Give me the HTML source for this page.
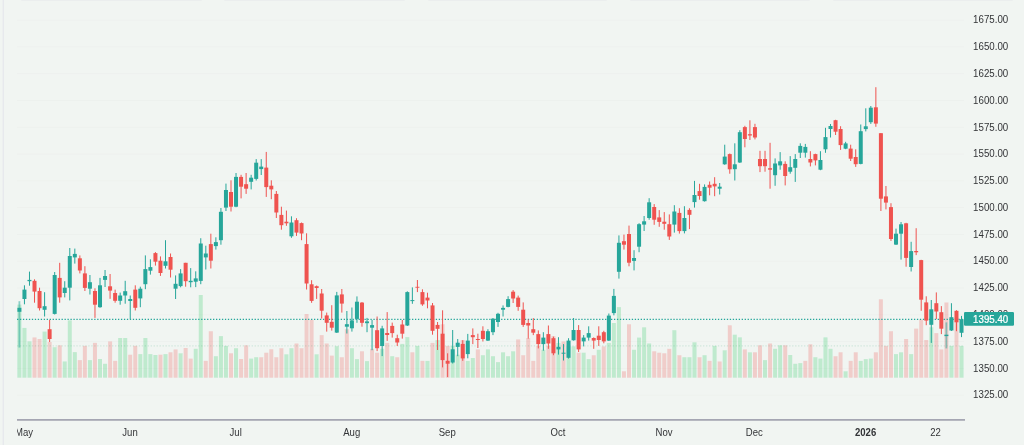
<!DOCTYPE html>
<html><head><meta charset="utf-8"><title>Chart</title>
<style>
html,body{margin:0;padding:0;background:#f1f5f2;}
body{width:1024px;height:445px;overflow:hidden;position:relative;font-family:"Liberation Sans",sans-serif;}
svg{position:absolute;left:0;top:0;display:block}
text{font-family:"Liberation Sans",sans-serif;fill:#333437}
</style></head><body>
<svg width="1024" height="445" viewBox="0 0 1024 445">
<defs><filter id="vb" x="-5%" y="-5%" width="110%" height="110%"><feGaussianBlur stdDeviation="0.22"/></filter><filter id="b" x="-5%" y="-5%" width="110%" height="110%"><feGaussianBlur stdDeviation="0.35"/></filter>
<filter id="tb" x="-5%" y="-20%" width="110%" height="140%"><feGaussianBlur stdDeviation="0.3"/></filter>
<filter id="sh" x="-5%" y="-300%" width="110%" height="700%"><feGaussianBlur stdDeviation="0.6"/></filter></defs>
<rect x="0" y="0" width="1024" height="445" fill="#f1f5f2"/>

<rect x="20" y="-3" width="183" height="3.3" rx="2" fill="#d6d7e2" filter="url(#sh)"/>
<rect x="223" y="-3" width="183" height="3.3" rx="2" fill="#d6d7e2" filter="url(#sh)"/>
<rect x="427" y="-3" width="181" height="3.3" rx="2" fill="#d6d7e2" filter="url(#sh)"/>
<rect x="629" y="-3" width="182" height="3.3" rx="2" fill="#d6d7e2" filter="url(#sh)"/>
<rect x="832" y="-3" width="182" height="3.3" rx="2" fill="#d6d7e2" filter="url(#sh)"/>
<rect x="2.7" y="0" width="1" height="445" fill="#e3e4ec"/>
<rect x="17" y="394.76" width="947" height="0.8" fill="#edf0ed"/>
<rect x="17" y="367.97" width="947" height="0.8" fill="#edf0ed"/>
<rect x="17" y="341.18" width="947" height="0.8" fill="#edf0ed"/>
<rect x="17" y="314.39" width="947" height="0.8" fill="#edf0ed"/>
<rect x="17" y="287.60" width="947" height="0.8" fill="#edf0ed"/>
<rect x="17" y="260.81" width="947" height="0.8" fill="#edf0ed"/>
<rect x="17" y="234.02" width="947" height="0.8" fill="#edf0ed"/>
<rect x="17" y="207.23" width="947" height="0.8" fill="#edf0ed"/>
<rect x="17" y="180.44" width="947" height="0.8" fill="#edf0ed"/>
<rect x="17" y="153.65" width="947" height="0.8" fill="#edf0ed"/>
<rect x="17" y="126.86" width="947" height="0.8" fill="#edf0ed"/>
<rect x="17" y="100.07" width="947" height="0.8" fill="#edf0ed"/>
<rect x="17" y="73.28" width="947" height="0.8" fill="#edf0ed"/>
<rect x="17" y="46.49" width="947" height="0.8" fill="#edf0ed"/>
<rect x="17" y="19.70" width="947" height="0.8" fill="#edf0ed"/>
<g filter="url(#vb)">
<rect x="17.40" y="304.6" width="4.00" height="73.1" fill="rgba(34,197,94,0.245)"/>
<rect x="22.44" y="327.9" width="4.00" height="49.8" fill="rgba(34,197,94,0.245)"/>
<rect x="27.48" y="341.4" width="4.00" height="36.3" fill="rgba(34,197,94,0.245)"/>
<rect x="32.51" y="337.4" width="4.00" height="40.3" fill="rgba(239,68,68,0.225)"/>
<rect x="37.55" y="339.0" width="4.00" height="38.7" fill="rgba(239,68,68,0.225)"/>
<rect x="42.59" y="331.6" width="4.00" height="46.1" fill="rgba(34,197,94,0.245)"/>
<rect x="47.63" y="342.0" width="4.00" height="35.7" fill="rgba(239,68,68,0.225)"/>
<rect x="52.67" y="347.2" width="4.00" height="30.5" fill="rgba(34,197,94,0.245)"/>
<rect x="57.70" y="345.3" width="4.00" height="32.4" fill="rgba(239,68,68,0.225)"/>
<rect x="62.74" y="361.5" width="4.00" height="16.2" fill="rgba(34,197,94,0.245)"/>
<rect x="67.78" y="320.4" width="4.00" height="57.3" fill="rgba(34,197,94,0.245)"/>
<rect x="72.82" y="352.1" width="4.00" height="25.6" fill="rgba(34,197,94,0.245)"/>
<rect x="77.86" y="360.1" width="4.00" height="17.6" fill="rgba(239,68,68,0.225)"/>
<rect x="82.89" y="345.9" width="4.00" height="31.8" fill="rgba(239,68,68,0.225)"/>
<rect x="87.93" y="360.1" width="4.00" height="17.6" fill="rgba(34,197,94,0.245)"/>
<rect x="92.97" y="342.9" width="4.00" height="34.8" fill="rgba(239,68,68,0.225)"/>
<rect x="98.01" y="359.0" width="4.00" height="18.7" fill="rgba(34,197,94,0.245)"/>
<rect x="103.05" y="363.8" width="4.00" height="13.9" fill="rgba(34,197,94,0.245)"/>
<rect x="108.08" y="341.4" width="4.00" height="36.3" fill="rgba(239,68,68,0.225)"/>
<rect x="113.12" y="360.9" width="4.00" height="16.8" fill="rgba(239,68,68,0.225)"/>
<rect x="118.16" y="338.0" width="4.00" height="39.7" fill="rgba(34,197,94,0.245)"/>
<rect x="123.20" y="338.0" width="4.00" height="39.7" fill="rgba(34,197,94,0.245)"/>
<rect x="128.24" y="354.7" width="4.00" height="23.0" fill="rgba(239,68,68,0.225)"/>
<rect x="133.27" y="345.9" width="4.00" height="31.8" fill="rgba(239,68,68,0.225)"/>
<rect x="138.31" y="354.1" width="4.00" height="23.6" fill="rgba(34,197,94,0.245)"/>
<rect x="143.35" y="338.0" width="4.00" height="39.7" fill="rgba(34,197,94,0.245)"/>
<rect x="148.39" y="354.1" width="4.00" height="23.6" fill="rgba(34,197,94,0.245)"/>
<rect x="153.43" y="355.0" width="4.00" height="22.7" fill="rgba(34,197,94,0.245)"/>
<rect x="158.46" y="354.7" width="4.00" height="23.0" fill="rgba(239,68,68,0.225)"/>
<rect x="163.50" y="354.1" width="4.00" height="23.6" fill="rgba(34,197,94,0.245)"/>
<rect x="168.54" y="352.3" width="4.00" height="25.4" fill="rgba(239,68,68,0.225)"/>
<rect x="173.58" y="349.4" width="4.00" height="28.3" fill="rgba(239,68,68,0.225)"/>
<rect x="178.62" y="353.3" width="4.00" height="24.4" fill="rgba(34,197,94,0.245)"/>
<rect x="183.65" y="348.0" width="4.00" height="29.7" fill="rgba(239,68,68,0.225)"/>
<rect x="188.69" y="358.6" width="4.00" height="19.1" fill="rgba(239,68,68,0.225)"/>
<rect x="193.73" y="348.8" width="4.00" height="28.9" fill="rgba(34,197,94,0.245)"/>
<rect x="198.77" y="295.0" width="4.00" height="82.7" fill="rgba(34,197,94,0.245)"/>
<rect x="203.81" y="360.9" width="4.00" height="16.8" fill="rgba(239,68,68,0.225)"/>
<rect x="208.84" y="331.2" width="4.00" height="46.5" fill="rgba(239,68,68,0.225)"/>
<rect x="213.88" y="356.2" width="4.00" height="21.5" fill="rgba(34,197,94,0.245)"/>
<rect x="218.92" y="336.1" width="4.00" height="41.6" fill="rgba(34,197,94,0.245)"/>
<rect x="223.96" y="345.9" width="4.00" height="31.8" fill="rgba(34,197,94,0.245)"/>
<rect x="229.00" y="353.3" width="4.00" height="24.4" fill="rgba(239,68,68,0.225)"/>
<rect x="234.03" y="348.2" width="4.00" height="29.5" fill="rgba(34,197,94,0.245)"/>
<rect x="239.07" y="359.0" width="4.00" height="18.7" fill="rgba(239,68,68,0.225)"/>
<rect x="244.11" y="345.3" width="4.00" height="32.4" fill="rgba(239,68,68,0.225)"/>
<rect x="249.15" y="358.6" width="4.00" height="19.1" fill="rgba(34,197,94,0.245)"/>
<rect x="254.19" y="357.2" width="4.00" height="20.5" fill="rgba(34,197,94,0.245)"/>
<rect x="259.22" y="357.2" width="4.00" height="20.5" fill="rgba(239,68,68,0.225)"/>
<rect x="264.26" y="352.7" width="4.00" height="25.0" fill="rgba(239,68,68,0.225)"/>
<rect x="269.30" y="349.2" width="4.00" height="28.5" fill="rgba(239,68,68,0.225)"/>
<rect x="274.34" y="357.2" width="4.00" height="20.5" fill="rgba(239,68,68,0.225)"/>
<rect x="279.38" y="348.2" width="4.00" height="29.5" fill="rgba(239,68,68,0.225)"/>
<rect x="284.41" y="354.3" width="4.00" height="23.4" fill="rgba(34,197,94,0.245)"/>
<rect x="289.45" y="348.2" width="4.00" height="29.5" fill="rgba(34,197,94,0.245)"/>
<rect x="294.49" y="343.5" width="4.00" height="34.2" fill="rgba(239,68,68,0.225)"/>
<rect x="299.53" y="348.2" width="4.00" height="29.5" fill="rgba(239,68,68,0.225)"/>
<rect x="304.57" y="314.0" width="4.00" height="63.7" fill="rgba(239,68,68,0.225)"/>
<rect x="309.60" y="319.9" width="4.00" height="57.8" fill="rgba(239,68,68,0.225)"/>
<rect x="314.64" y="354.3" width="4.00" height="23.4" fill="rgba(34,197,94,0.245)"/>
<rect x="319.68" y="335.1" width="4.00" height="42.6" fill="rgba(239,68,68,0.225)"/>
<rect x="324.72" y="343.5" width="4.00" height="34.2" fill="rgba(239,68,68,0.225)"/>
<rect x="329.76" y="355.6" width="4.00" height="22.1" fill="rgba(239,68,68,0.225)"/>
<rect x="334.79" y="346.2" width="4.00" height="31.5" fill="rgba(34,197,94,0.245)"/>
<rect x="339.83" y="357.2" width="4.00" height="20.5" fill="rgba(239,68,68,0.225)"/>
<rect x="344.87" y="329.2" width="4.00" height="48.5" fill="rgba(239,68,68,0.225)"/>
<rect x="349.91" y="348.2" width="4.00" height="29.5" fill="rgba(34,197,94,0.245)"/>
<rect x="354.95" y="359.1" width="4.00" height="18.6" fill="rgba(34,197,94,0.245)"/>
<rect x="359.98" y="351.3" width="4.00" height="26.4" fill="rgba(239,68,68,0.225)"/>
<rect x="365.02" y="361.1" width="4.00" height="16.6" fill="rgba(34,197,94,0.245)"/>
<rect x="370.06" y="348.8" width="4.00" height="28.9" fill="rgba(239,68,68,0.225)"/>
<rect x="375.10" y="352.7" width="4.00" height="25.0" fill="rgba(239,68,68,0.225)"/>
<rect x="380.14" y="348.8" width="4.00" height="28.9" fill="rgba(34,197,94,0.245)"/>
<rect x="385.17" y="342.9" width="4.00" height="34.8" fill="rgba(239,68,68,0.225)"/>
<rect x="390.21" y="356.2" width="4.00" height="21.5" fill="rgba(34,197,94,0.245)"/>
<rect x="395.25" y="357.2" width="4.00" height="20.5" fill="rgba(239,68,68,0.225)"/>
<rect x="400.29" y="343.9" width="4.00" height="33.8" fill="rgba(34,197,94,0.245)"/>
<rect x="405.33" y="337.1" width="4.00" height="40.6" fill="rgba(34,197,94,0.245)"/>
<rect x="410.36" y="352.3" width="4.00" height="25.4" fill="rgba(239,68,68,0.225)"/>
<rect x="415.40" y="345.9" width="4.00" height="31.8" fill="rgba(34,197,94,0.245)"/>
<rect x="420.44" y="360.9" width="4.00" height="16.8" fill="rgba(239,68,68,0.225)"/>
<rect x="425.48" y="360.9" width="4.00" height="16.8" fill="rgba(34,197,94,0.245)"/>
<rect x="430.52" y="342.9" width="4.00" height="34.8" fill="rgba(239,68,68,0.225)"/>
<rect x="435.55" y="340.0" width="4.00" height="37.7" fill="rgba(34,197,94,0.245)"/>
<rect x="440.59" y="324.3" width="4.00" height="53.4" fill="rgba(239,68,68,0.225)"/>
<rect x="445.63" y="345.9" width="4.00" height="31.8" fill="rgba(239,68,68,0.225)"/>
<rect x="450.67" y="345.9" width="4.00" height="31.8" fill="rgba(34,197,94,0.245)"/>
<rect x="455.71" y="354.7" width="4.00" height="23.0" fill="rgba(34,197,94,0.245)"/>
<rect x="460.74" y="340.0" width="4.00" height="37.7" fill="rgba(239,68,68,0.225)"/>
<rect x="465.78" y="360.9" width="4.00" height="16.8" fill="rgba(34,197,94,0.245)"/>
<rect x="470.82" y="358.0" width="4.00" height="19.7" fill="rgba(34,197,94,0.245)"/>
<rect x="475.86" y="349.4" width="4.00" height="28.3" fill="rgba(239,68,68,0.225)"/>
<rect x="480.90" y="355.2" width="4.00" height="22.5" fill="rgba(34,197,94,0.245)"/>
<rect x="485.93" y="349.4" width="4.00" height="28.3" fill="rgba(34,197,94,0.245)"/>
<rect x="490.97" y="356.2" width="4.00" height="21.5" fill="rgba(34,197,94,0.245)"/>
<rect x="496.01" y="362.1" width="4.00" height="15.6" fill="rgba(34,197,94,0.245)"/>
<rect x="501.05" y="352.3" width="4.00" height="25.4" fill="rgba(34,197,94,0.245)"/>
<rect x="506.09" y="356.2" width="4.00" height="21.5" fill="rgba(34,197,94,0.245)"/>
<rect x="511.12" y="351.3" width="4.00" height="26.4" fill="rgba(34,197,94,0.245)"/>
<rect x="516.16" y="339.4" width="4.00" height="38.3" fill="rgba(239,68,68,0.225)"/>
<rect x="521.20" y="355.2" width="4.00" height="22.5" fill="rgba(239,68,68,0.225)"/>
<rect x="526.24" y="338.0" width="4.00" height="39.7" fill="rgba(239,68,68,0.225)"/>
<rect x="531.28" y="360.9" width="4.00" height="16.8" fill="rgba(239,68,68,0.225)"/>
<rect x="536.31" y="345.9" width="4.00" height="31.8" fill="rgba(239,68,68,0.225)"/>
<rect x="541.35" y="349.8" width="4.00" height="27.9" fill="rgba(34,197,94,0.245)"/>
<rect x="546.39" y="345.9" width="4.00" height="31.8" fill="rgba(239,68,68,0.225)"/>
<rect x="551.43" y="336.1" width="4.00" height="41.6" fill="rgba(239,68,68,0.225)"/>
<rect x="556.47" y="342.9" width="4.00" height="34.8" fill="rgba(34,197,94,0.245)"/>
<rect x="561.50" y="341.4" width="4.00" height="36.3" fill="rgba(239,68,68,0.225)"/>
<rect x="566.54" y="346.4" width="4.00" height="31.3" fill="rgba(34,197,94,0.245)"/>
<rect x="571.58" y="346.4" width="4.00" height="31.3" fill="rgba(34,197,94,0.245)"/>
<rect x="576.62" y="352.7" width="4.00" height="25.0" fill="rgba(239,68,68,0.225)"/>
<rect x="581.66" y="352.7" width="4.00" height="25.0" fill="rgba(34,197,94,0.245)"/>
<rect x="586.69" y="359.1" width="4.00" height="18.6" fill="rgba(34,197,94,0.245)"/>
<rect x="591.73" y="355.2" width="4.00" height="22.5" fill="rgba(239,68,68,0.225)"/>
<rect x="596.77" y="349.8" width="4.00" height="27.9" fill="rgba(34,197,94,0.245)"/>
<rect x="601.81" y="346.4" width="4.00" height="31.3" fill="rgba(239,68,68,0.225)"/>
<rect x="606.85" y="342.9" width="4.00" height="34.8" fill="rgba(34,197,94,0.245)"/>
<rect x="611.88" y="323.0" width="4.00" height="54.7" fill="rgba(34,197,94,0.245)"/>
<rect x="616.92" y="307.1" width="4.00" height="70.6" fill="rgba(34,197,94,0.245)"/>
<rect x="621.96" y="371.3" width="4.00" height="6.4" fill="rgba(239,68,68,0.225)"/>
<rect x="627.00" y="324.3" width="4.00" height="53.4" fill="rgba(239,68,68,0.225)"/>
<rect x="632.04" y="349.8" width="4.00" height="27.9" fill="rgba(34,197,94,0.245)"/>
<rect x="637.07" y="337.6" width="4.00" height="40.1" fill="rgba(34,197,94,0.245)"/>
<rect x="642.11" y="327.3" width="4.00" height="50.4" fill="rgba(34,197,94,0.245)"/>
<rect x="647.15" y="343.5" width="4.00" height="34.2" fill="rgba(34,197,94,0.245)"/>
<rect x="652.19" y="351.3" width="4.00" height="26.4" fill="rgba(239,68,68,0.225)"/>
<rect x="657.23" y="352.7" width="4.00" height="25.0" fill="rgba(239,68,68,0.225)"/>
<rect x="662.26" y="353.3" width="4.00" height="24.4" fill="rgba(239,68,68,0.225)"/>
<rect x="667.30" y="348.8" width="4.00" height="28.9" fill="rgba(239,68,68,0.225)"/>
<rect x="672.34" y="330.2" width="4.00" height="47.5" fill="rgba(34,197,94,0.245)"/>
<rect x="677.38" y="355.2" width="4.00" height="22.5" fill="rgba(239,68,68,0.225)"/>
<rect x="682.42" y="357.2" width="4.00" height="20.5" fill="rgba(34,197,94,0.245)"/>
<rect x="687.45" y="357.2" width="4.00" height="20.5" fill="rgba(34,197,94,0.245)"/>
<rect x="692.49" y="342.3" width="4.00" height="35.4" fill="rgba(34,197,94,0.245)"/>
<rect x="697.53" y="357.2" width="4.00" height="20.5" fill="rgba(239,68,68,0.225)"/>
<rect x="702.57" y="355.2" width="4.00" height="22.5" fill="rgba(34,197,94,0.245)"/>
<rect x="707.61" y="360.9" width="4.00" height="16.8" fill="rgba(239,68,68,0.225)"/>
<rect x="712.64" y="345.9" width="4.00" height="31.8" fill="rgba(34,197,94,0.245)"/>
<rect x="717.68" y="361.5" width="4.00" height="16.2" fill="rgba(239,68,68,0.225)"/>
<rect x="722.72" y="350.3" width="4.00" height="27.4" fill="rgba(34,197,94,0.245)"/>
<rect x="727.76" y="325.3" width="4.00" height="52.4" fill="rgba(239,68,68,0.225)"/>
<rect x="732.80" y="334.7" width="4.00" height="43.0" fill="rgba(34,197,94,0.245)"/>
<rect x="737.83" y="337.4" width="4.00" height="40.3" fill="rgba(34,197,94,0.245)"/>
<rect x="742.87" y="349.4" width="4.00" height="28.3" fill="rgba(239,68,68,0.225)"/>
<rect x="747.91" y="352.3" width="4.00" height="25.4" fill="rgba(34,197,94,0.245)"/>
<rect x="752.95" y="352.3" width="4.00" height="25.4" fill="rgba(239,68,68,0.225)"/>
<rect x="757.99" y="345.3" width="4.00" height="32.4" fill="rgba(239,68,68,0.225)"/>
<rect x="763.02" y="360.1" width="4.00" height="17.6" fill="rgba(34,197,94,0.245)"/>
<rect x="768.06" y="343.5" width="4.00" height="34.2" fill="rgba(239,68,68,0.225)"/>
<rect x="773.10" y="348.8" width="4.00" height="28.9" fill="rgba(34,197,94,0.245)"/>
<rect x="778.14" y="345.3" width="4.00" height="32.4" fill="rgba(34,197,94,0.245)"/>
<rect x="783.18" y="345.3" width="4.00" height="32.4" fill="rgba(239,68,68,0.225)"/>
<rect x="788.21" y="355.0" width="4.00" height="22.7" fill="rgba(34,197,94,0.245)"/>
<rect x="793.25" y="363.8" width="4.00" height="13.9" fill="rgba(34,197,94,0.245)"/>
<rect x="798.29" y="363.1" width="4.00" height="14.6" fill="rgba(34,197,94,0.245)"/>
<rect x="803.33" y="360.9" width="4.00" height="16.8" fill="rgba(239,68,68,0.225)"/>
<rect x="808.37" y="344.3" width="4.00" height="33.4" fill="rgba(239,68,68,0.225)"/>
<rect x="813.40" y="357.2" width="4.00" height="20.5" fill="rgba(34,197,94,0.245)"/>
<rect x="818.44" y="358.6" width="4.00" height="19.1" fill="rgba(34,197,94,0.245)"/>
<rect x="823.48" y="337.4" width="4.00" height="40.3" fill="rgba(34,197,94,0.245)"/>
<rect x="828.52" y="348.8" width="4.00" height="28.9" fill="rgba(34,197,94,0.245)"/>
<rect x="833.56" y="356.2" width="4.00" height="21.5" fill="rgba(239,68,68,0.225)"/>
<rect x="838.59" y="352.3" width="4.00" height="25.4" fill="rgba(239,68,68,0.225)"/>
<rect x="843.63" y="371.3" width="4.00" height="6.4" fill="rgba(34,197,94,0.245)"/>
<rect x="848.67" y="360.9" width="4.00" height="16.8" fill="rgba(239,68,68,0.225)"/>
<rect x="853.71" y="352.3" width="4.00" height="25.4" fill="rgba(239,68,68,0.225)"/>
<rect x="858.75" y="360.9" width="4.00" height="16.8" fill="rgba(34,197,94,0.245)"/>
<rect x="863.78" y="359.1" width="4.00" height="18.6" fill="rgba(34,197,94,0.245)"/>
<rect x="868.82" y="358.6" width="4.00" height="19.1" fill="rgba(34,197,94,0.245)"/>
<rect x="873.86" y="352.3" width="4.00" height="25.4" fill="rgba(239,68,68,0.225)"/>
<rect x="878.90" y="299.3" width="4.00" height="78.4" fill="rgba(239,68,68,0.225)"/>
<rect x="883.94" y="345.9" width="4.00" height="31.8" fill="rgba(239,68,68,0.225)"/>
<rect x="888.97" y="331.2" width="4.00" height="46.5" fill="rgba(239,68,68,0.225)"/>
<rect x="894.01" y="354.1" width="4.00" height="23.6" fill="rgba(34,197,94,0.245)"/>
<rect x="899.05" y="352.3" width="4.00" height="25.4" fill="rgba(34,197,94,0.245)"/>
<rect x="904.09" y="339.0" width="4.00" height="38.7" fill="rgba(239,68,68,0.225)"/>
<rect x="909.13" y="354.1" width="4.00" height="23.6" fill="rgba(34,197,94,0.245)"/>
<rect x="914.16" y="328.6" width="4.00" height="49.1" fill="rgba(239,68,68,0.225)"/>
<rect x="919.20" y="319.9" width="4.00" height="57.8" fill="rgba(239,68,68,0.225)"/>
<rect x="924.24" y="340.0" width="4.00" height="37.7" fill="rgba(239,68,68,0.225)"/>
<rect x="929.28" y="327.3" width="4.00" height="50.4" fill="rgba(34,197,94,0.245)"/>
<rect x="934.32" y="333.1" width="4.00" height="44.6" fill="rgba(239,68,68,0.225)"/>
<rect x="939.35" y="349.4" width="4.00" height="28.3" fill="rgba(239,68,68,0.225)"/>
<rect x="944.39" y="302.5" width="4.00" height="75.2" fill="rgba(239,68,68,0.225)"/>
<rect x="949.43" y="345.9" width="4.00" height="31.8" fill="rgba(34,197,94,0.245)"/>
<rect x="954.47" y="317.9" width="4.00" height="59.8" fill="rgba(239,68,68,0.225)"/>
<rect x="959.51" y="345.9" width="4.00" height="31.8" fill="rgba(34,197,94,0.245)"/>
</g><g filter="url(#b)">
<line x1="17" y1="345.9" x2="964" y2="345.9" stroke="rgba(34,150,94,0.14)" stroke-width="1.1" stroke-dasharray="1.3 1.67"/>
<line x1="17" y1="319.3" x2="964" y2="319.3" stroke="#26a69a" stroke-width="1.15" stroke-dasharray="1.3 1.67"/>
<rect x="18.50" y="301.2" width="1.8" height="46.3" fill="#26a69a" opacity="0.5"/>
<rect x="17.40" y="307.8" width="4.0" height="4.0" fill="#26a69a"/>
<rect x="23.94" y="285.3" width="1.0" height="19.0" fill="#26a69a"/>
<rect x="22.44" y="289.6" width="4.0" height="9.4" fill="#26a69a"/>
<rect x="28.98" y="271.6" width="1.0" height="14.1" fill="#26a69a"/>
<rect x="27.48" y="279.9" width="4.0" height="1.3" fill="#26a69a"/>
<rect x="34.01" y="279.3" width="1.0" height="23.4" fill="#ef5350"/>
<rect x="32.51" y="280.8" width="4.0" height="10.8" fill="#ef5350"/>
<rect x="39.05" y="287.7" width="1.0" height="22.8" fill="#ef5350"/>
<rect x="37.55" y="291.0" width="4.0" height="17.2" fill="#ef5350"/>
<rect x="44.09" y="292.2" width="1.0" height="24.3" fill="#26a69a"/>
<rect x="42.59" y="306.2" width="4.0" height="3.6" fill="#26a69a"/>
<rect x="49.13" y="319.9" width="1.0" height="22.1" fill="#ef5350"/>
<rect x="47.63" y="329.2" width="4.0" height="9.8" fill="#ef5350"/>
<rect x="54.17" y="272.0" width="1.0" height="42.5" fill="#26a69a"/>
<rect x="52.67" y="275.0" width="4.0" height="38.9" fill="#26a69a"/>
<rect x="59.20" y="262.8" width="1.0" height="39.9" fill="#ef5350"/>
<rect x="57.70" y="277.9" width="4.0" height="19.5" fill="#ef5350"/>
<rect x="64.24" y="281.2" width="1.0" height="16.2" fill="#26a69a"/>
<rect x="62.74" y="287.7" width="4.0" height="5.3" fill="#26a69a"/>
<rect x="69.28" y="248.0" width="1.0" height="52.4" fill="#26a69a"/>
<rect x="67.78" y="256.0" width="4.0" height="31.7" fill="#26a69a"/>
<rect x="74.32" y="248.6" width="1.0" height="15.0" fill="#26a69a"/>
<rect x="72.82" y="253.9" width="4.0" height="3.5" fill="#26a69a"/>
<rect x="79.36" y="255.4" width="1.0" height="18.0" fill="#ef5350"/>
<rect x="77.86" y="258.3" width="4.0" height="12.2" fill="#ef5350"/>
<rect x="84.39" y="266.2" width="1.0" height="24.8" fill="#ef5350"/>
<rect x="82.89" y="273.4" width="4.0" height="14.5" fill="#ef5350"/>
<rect x="89.43" y="275.0" width="1.0" height="19.5" fill="#26a69a"/>
<rect x="87.93" y="282.2" width="4.0" height="6.5" fill="#26a69a"/>
<rect x="94.47" y="288.3" width="1.0" height="29.6" fill="#ef5350"/>
<rect x="92.97" y="291.0" width="4.0" height="13.7" fill="#ef5350"/>
<rect x="99.51" y="277.9" width="1.0" height="29.9" fill="#26a69a"/>
<rect x="98.01" y="285.3" width="4.0" height="21.9" fill="#26a69a"/>
<rect x="104.55" y="270.0" width="1.0" height="17.0" fill="#26a69a"/>
<rect x="103.05" y="276.0" width="4.0" height="3.9" fill="#26a69a"/>
<rect x="109.58" y="274.0" width="1.0" height="24.8" fill="#ef5350"/>
<rect x="108.08" y="286.3" width="4.0" height="4.3" fill="#ef5350"/>
<rect x="114.62" y="289.6" width="1.0" height="13.1" fill="#ef5350"/>
<rect x="113.12" y="293.0" width="4.0" height="7.8" fill="#ef5350"/>
<rect x="119.66" y="292.6" width="1.0" height="12.1" fill="#26a69a"/>
<rect x="118.16" y="295.5" width="4.0" height="5.3" fill="#26a69a"/>
<rect x="124.70" y="280.8" width="1.0" height="22.9" fill="#26a69a"/>
<rect x="123.20" y="291.2" width="4.0" height="4.3" fill="#26a69a"/>
<rect x="129.74" y="295.5" width="1.0" height="23.6" fill="#26a69a"/>
<rect x="128.24" y="299.0" width="4.0" height="2.0" fill="#26a69a"/>
<rect x="134.77" y="285.3" width="1.0" height="25.2" fill="#ef5350"/>
<rect x="133.27" y="289.6" width="4.0" height="18.2" fill="#ef5350"/>
<rect x="139.81" y="286.7" width="1.0" height="20.5" fill="#26a69a"/>
<rect x="138.31" y="288.7" width="4.0" height="9.7" fill="#26a69a"/>
<rect x="144.85" y="255.4" width="1.0" height="33.8" fill="#26a69a"/>
<rect x="143.35" y="269.1" width="4.0" height="15.1" fill="#26a69a"/>
<rect x="149.89" y="259.3" width="1.0" height="15.3" fill="#26a69a"/>
<rect x="148.39" y="267.1" width="4.0" height="3.6" fill="#26a69a"/>
<rect x="154.93" y="252.1" width="1.0" height="13.5" fill="#ef5350"/>
<rect x="153.43" y="253.1" width="4.0" height="8.6" fill="#ef5350"/>
<rect x="159.96" y="256.4" width="1.0" height="19.5" fill="#ef5350"/>
<rect x="158.46" y="260.7" width="4.0" height="12.3" fill="#ef5350"/>
<rect x="165.00" y="240.2" width="1.0" height="28.3" fill="#26a69a"/>
<rect x="163.50" y="261.3" width="4.0" height="4.5" fill="#26a69a"/>
<rect x="170.04" y="253.5" width="1.0" height="24.0" fill="#ef5350"/>
<rect x="168.54" y="257.0" width="4.0" height="12.7" fill="#ef5350"/>
<rect x="175.08" y="275.4" width="1.0" height="23.6" fill="#26a69a"/>
<rect x="173.58" y="283.8" width="4.0" height="4.9" fill="#26a69a"/>
<rect x="180.12" y="269.1" width="1.0" height="18.2" fill="#26a69a"/>
<rect x="178.62" y="273.4" width="4.0" height="12.7" fill="#26a69a"/>
<rect x="185.15" y="262.8" width="1.0" height="23.9" fill="#ef5350"/>
<rect x="183.65" y="262.8" width="4.0" height="18.4" fill="#ef5350"/>
<rect x="190.19" y="268.1" width="1.0" height="19.2" fill="#26a69a"/>
<rect x="188.69" y="280.8" width="4.0" height="1.4" fill="#26a69a"/>
<rect x="195.23" y="271.3" width="1.0" height="15.8" fill="#26a69a"/>
<rect x="193.73" y="278.4" width="4.0" height="3.3" fill="#26a69a"/>
<rect x="200.27" y="238.2" width="1.0" height="46.0" fill="#26a69a"/>
<rect x="198.77" y="243.5" width="4.0" height="37.4" fill="#26a69a"/>
<rect x="205.31" y="245.7" width="1.0" height="23.8" fill="#26a69a"/>
<rect x="203.81" y="253.5" width="4.0" height="3.9" fill="#26a69a"/>
<rect x="210.34" y="233.7" width="1.0" height="34.8" fill="#ef5350"/>
<rect x="208.84" y="244.1" width="4.0" height="16.6" fill="#ef5350"/>
<rect x="215.38" y="237.3" width="1.0" height="12.3" fill="#26a69a"/>
<rect x="213.88" y="242.1" width="4.0" height="4.0" fill="#26a69a"/>
<rect x="220.42" y="208.0" width="1.0" height="36.7" fill="#26a69a"/>
<rect x="218.92" y="211.8" width="4.0" height="28.4" fill="#26a69a"/>
<rect x="225.46" y="183.6" width="1.0" height="27.4" fill="#26a69a"/>
<rect x="223.96" y="190.0" width="4.0" height="17.6" fill="#26a69a"/>
<rect x="230.50" y="180.3" width="1.0" height="31.2" fill="#ef5350"/>
<rect x="229.00" y="192.0" width="4.0" height="14.7" fill="#ef5350"/>
<rect x="235.53" y="173.0" width="1.0" height="34.2" fill="#26a69a"/>
<rect x="234.03" y="176.9" width="4.0" height="29.8" fill="#26a69a"/>
<rect x="240.57" y="174.8" width="1.0" height="23.6" fill="#ef5350"/>
<rect x="239.07" y="176.9" width="4.0" height="9.8" fill="#ef5350"/>
<rect x="245.61" y="173.0" width="1.0" height="20.9" fill="#ef5350"/>
<rect x="244.11" y="184.2" width="4.0" height="4.5" fill="#ef5350"/>
<rect x="250.65" y="174.8" width="1.0" height="14.6" fill="#26a69a"/>
<rect x="249.15" y="177.7" width="4.0" height="4.1" fill="#26a69a"/>
<rect x="255.69" y="159.1" width="1.0" height="21.4" fill="#26a69a"/>
<rect x="254.19" y="162.7" width="4.0" height="16.2" fill="#26a69a"/>
<rect x="260.72" y="159.1" width="1.0" height="15.9" fill="#26a69a"/>
<rect x="259.22" y="166.6" width="4.0" height="2.5" fill="#26a69a"/>
<rect x="265.76" y="151.9" width="1.0" height="45.0" fill="#ef5350"/>
<rect x="264.26" y="167.6" width="4.0" height="19.5" fill="#ef5350"/>
<rect x="270.80" y="180.3" width="1.0" height="18.9" fill="#ef5350"/>
<rect x="269.30" y="185.7" width="4.0" height="3.7" fill="#ef5350"/>
<rect x="275.84" y="191.0" width="1.0" height="27.0" fill="#ef5350"/>
<rect x="274.34" y="193.9" width="4.0" height="18.6" fill="#ef5350"/>
<rect x="280.88" y="206.7" width="1.0" height="23.0" fill="#ef5350"/>
<rect x="279.38" y="214.9" width="4.0" height="10.3" fill="#ef5350"/>
<rect x="285.91" y="210.6" width="1.0" height="15.2" fill="#ef5350"/>
<rect x="284.41" y="221.7" width="4.0" height="1.6" fill="#ef5350"/>
<rect x="290.95" y="216.3" width="1.0" height="21.5" fill="#26a69a"/>
<rect x="289.45" y="222.5" width="4.0" height="13.8" fill="#26a69a"/>
<rect x="295.99" y="218.2" width="1.0" height="17.7" fill="#ef5350"/>
<rect x="294.49" y="220.2" width="4.0" height="12.4" fill="#ef5350"/>
<rect x="301.03" y="222.5" width="1.0" height="17.7" fill="#ef5350"/>
<rect x="299.53" y="223.1" width="4.0" height="10.4" fill="#ef5350"/>
<rect x="306.07" y="233.3" width="1.0" height="56.2" fill="#ef5350"/>
<rect x="304.57" y="244.1" width="4.0" height="39.4" fill="#ef5350"/>
<rect x="311.10" y="280.2" width="1.0" height="22.6" fill="#ef5350"/>
<rect x="309.60" y="284.3" width="4.0" height="16.6" fill="#ef5350"/>
<rect x="316.14" y="285.5" width="1.0" height="13.4" fill="#ef5350"/>
<rect x="314.64" y="286.2" width="4.0" height="1.8" fill="#ef5350"/>
<rect x="321.18" y="289.0" width="1.0" height="29.5" fill="#ef5350"/>
<rect x="319.68" y="293.5" width="4.0" height="17.2" fill="#ef5350"/>
<rect x="326.22" y="312.6" width="1.0" height="19.0" fill="#ef5350"/>
<rect x="324.72" y="315.4" width="4.0" height="7.4" fill="#ef5350"/>
<rect x="331.26" y="305.2" width="1.0" height="25.4" fill="#ef5350"/>
<rect x="329.76" y="321.8" width="4.0" height="5.9" fill="#ef5350"/>
<rect x="336.29" y="291.9" width="1.0" height="41.1" fill="#26a69a"/>
<rect x="334.79" y="295.4" width="4.0" height="37.2" fill="#26a69a"/>
<rect x="341.33" y="289.0" width="1.0" height="23.6" fill="#ef5350"/>
<rect x="339.83" y="294.4" width="4.0" height="9.2" fill="#ef5350"/>
<rect x="346.37" y="311.0" width="1.0" height="22.5" fill="#26a69a"/>
<rect x="344.87" y="324.2" width="4.0" height="2.5" fill="#26a69a"/>
<rect x="351.41" y="307.5" width="1.0" height="24.1" fill="#26a69a"/>
<rect x="349.91" y="320.4" width="4.0" height="7.9" fill="#26a69a"/>
<rect x="356.45" y="296.4" width="1.0" height="26.4" fill="#26a69a"/>
<rect x="354.95" y="301.7" width="4.0" height="17.2" fill="#26a69a"/>
<rect x="361.48" y="302.0" width="1.0" height="24.7" fill="#ef5350"/>
<rect x="359.98" y="302.6" width="4.0" height="20.2" fill="#ef5350"/>
<rect x="366.52" y="317.9" width="1.0" height="14.3" fill="#26a69a"/>
<rect x="365.02" y="321.4" width="4.0" height="1.8" fill="#26a69a"/>
<rect x="371.56" y="319.9" width="1.0" height="30.3" fill="#26a69a"/>
<rect x="370.06" y="325.1" width="4.0" height="2.6" fill="#26a69a"/>
<rect x="376.60" y="316.5" width="1.0" height="34.6" fill="#ef5350"/>
<rect x="375.10" y="330.2" width="4.0" height="18.0" fill="#ef5350"/>
<rect x="381.64" y="325.8" width="1.0" height="30.3" fill="#26a69a"/>
<rect x="380.14" y="328.4" width="4.0" height="17.6" fill="#26a69a"/>
<rect x="386.67" y="312.1" width="1.0" height="28.8" fill="#ef5350"/>
<rect x="385.17" y="333.0" width="4.0" height="2.0" fill="#ef5350"/>
<rect x="391.71" y="322.6" width="1.0" height="15.0" fill="#ef5350"/>
<rect x="390.21" y="325.9" width="4.0" height="7.2" fill="#ef5350"/>
<rect x="396.75" y="334.7" width="1.0" height="11.3" fill="#ef5350"/>
<rect x="395.25" y="338.2" width="4.0" height="4.3" fill="#ef5350"/>
<rect x="401.79" y="320.0" width="1.0" height="18.6" fill="#ef5350"/>
<rect x="400.29" y="324.5" width="4.0" height="9.2" fill="#ef5350"/>
<rect x="406.83" y="291.3" width="1.0" height="34.7" fill="#26a69a"/>
<rect x="405.33" y="292.1" width="4.0" height="33.4" fill="#26a69a"/>
<rect x="411.86" y="287.4" width="1.0" height="16.4" fill="#26a69a"/>
<rect x="410.36" y="300.1" width="4.0" height="1.0" fill="#26a69a"/>
<rect x="416.90" y="280.0" width="1.0" height="12.1" fill="#ef5350"/>
<rect x="415.40" y="286.8" width="4.0" height="0.9" fill="#ef5350"/>
<rect x="421.94" y="289.3" width="1.0" height="16.5" fill="#ef5350"/>
<rect x="420.44" y="292.1" width="4.0" height="12.3" fill="#ef5350"/>
<rect x="426.98" y="292.7" width="1.0" height="15.6" fill="#ef5350"/>
<rect x="425.48" y="297.6" width="4.0" height="2.9" fill="#ef5350"/>
<rect x="432.02" y="303.0" width="1.0" height="31.7" fill="#ef5350"/>
<rect x="430.52" y="305.4" width="4.0" height="25.4" fill="#ef5350"/>
<rect x="437.05" y="322.0" width="1.0" height="28.0" fill="#ef5350"/>
<rect x="435.55" y="324.9" width="4.0" height="3.9" fill="#ef5350"/>
<rect x="442.09" y="310.3" width="1.0" height="57.1" fill="#ef5350"/>
<rect x="440.59" y="333.7" width="4.0" height="26.4" fill="#ef5350"/>
<rect x="447.13" y="353.3" width="1.0" height="23.8" fill="#ef5350"/>
<rect x="445.63" y="360.8" width="4.0" height="2.9" fill="#ef5350"/>
<rect x="452.17" y="330.0" width="1.0" height="33.5" fill="#26a69a"/>
<rect x="450.67" y="349.3" width="4.0" height="13.2" fill="#26a69a"/>
<rect x="457.21" y="339.0" width="1.0" height="17.2" fill="#26a69a"/>
<rect x="455.71" y="342.7" width="4.0" height="4.2" fill="#26a69a"/>
<rect x="462.24" y="340.2" width="1.0" height="20.6" fill="#ef5350"/>
<rect x="460.74" y="343.9" width="4.0" height="14.5" fill="#ef5350"/>
<rect x="467.28" y="333.9" width="1.0" height="24.4" fill="#26a69a"/>
<rect x="465.78" y="340.6" width="4.0" height="13.5" fill="#26a69a"/>
<rect x="472.32" y="328.4" width="1.0" height="15.7" fill="#ef5350"/>
<rect x="470.82" y="335.1" width="4.0" height="2.1" fill="#ef5350"/>
<rect x="477.36" y="333.7" width="1.0" height="14.3" fill="#ef5350"/>
<rect x="475.86" y="339.0" width="4.0" height="1.0" fill="#ef5350"/>
<rect x="482.40" y="326.3" width="1.0" height="15.2" fill="#ef5350"/>
<rect x="480.90" y="330.8" width="4.0" height="8.2" fill="#ef5350"/>
<rect x="487.43" y="329.2" width="1.0" height="11.8" fill="#26a69a"/>
<rect x="485.93" y="331.2" width="4.0" height="9.4" fill="#26a69a"/>
<rect x="492.47" y="318.1" width="1.0" height="17.0" fill="#26a69a"/>
<rect x="490.97" y="318.7" width="4.0" height="13.5" fill="#26a69a"/>
<rect x="497.51" y="312.8" width="1.0" height="14.1" fill="#26a69a"/>
<rect x="496.01" y="313.8" width="4.0" height="8.2" fill="#26a69a"/>
<rect x="502.55" y="305.4" width="1.0" height="11.1" fill="#26a69a"/>
<rect x="501.05" y="307.9" width="4.0" height="1.8" fill="#26a69a"/>
<rect x="507.59" y="296.2" width="1.0" height="11.1" fill="#26a69a"/>
<rect x="506.09" y="299.1" width="4.0" height="7.8" fill="#26a69a"/>
<rect x="512.62" y="290.1" width="1.0" height="12.9" fill="#ef5350"/>
<rect x="511.12" y="291.7" width="4.0" height="6.8" fill="#ef5350"/>
<rect x="517.66" y="295.6" width="1.0" height="15.2" fill="#ef5350"/>
<rect x="516.16" y="297.6" width="4.0" height="9.3" fill="#ef5350"/>
<rect x="522.70" y="302.4" width="1.0" height="24.5" fill="#ef5350"/>
<rect x="521.20" y="309.7" width="4.0" height="15.2" fill="#ef5350"/>
<rect x="527.74" y="319.4" width="1.0" height="19.2" fill="#ef5350"/>
<rect x="526.24" y="323.0" width="4.0" height="2.5" fill="#ef5350"/>
<rect x="532.78" y="318.1" width="1.0" height="17.0" fill="#ef5350"/>
<rect x="531.28" y="329.2" width="4.0" height="3.5" fill="#ef5350"/>
<rect x="537.81" y="330.4" width="1.0" height="18.0" fill="#ef5350"/>
<rect x="536.31" y="334.1" width="4.0" height="10.0" fill="#ef5350"/>
<rect x="542.85" y="332.2" width="1.0" height="18.5" fill="#26a69a"/>
<rect x="541.35" y="337.6" width="4.0" height="6.5" fill="#26a69a"/>
<rect x="547.89" y="325.5" width="1.0" height="23.3" fill="#ef5350"/>
<rect x="546.39" y="334.1" width="4.0" height="9.4" fill="#ef5350"/>
<rect x="552.93" y="336.6" width="1.0" height="18.6" fill="#ef5350"/>
<rect x="551.43" y="338.2" width="4.0" height="15.1" fill="#ef5350"/>
<rect x="557.97" y="337.2" width="1.0" height="17.4" fill="#26a69a"/>
<rect x="556.47" y="346.8" width="4.0" height="2.6" fill="#26a69a"/>
<rect x="563.00" y="344.1" width="1.0" height="16.4" fill="#26a69a"/>
<rect x="561.50" y="352.7" width="4.0" height="1.0" fill="#26a69a"/>
<rect x="568.04" y="338.2" width="1.0" height="20.4" fill="#26a69a"/>
<rect x="566.54" y="340.6" width="4.0" height="17.2" fill="#26a69a"/>
<rect x="573.08" y="318.0" width="1.0" height="22.6" fill="#26a69a"/>
<rect x="571.58" y="330.0" width="4.0" height="10.3" fill="#26a69a"/>
<rect x="578.12" y="325.1" width="1.0" height="26.9" fill="#ef5350"/>
<rect x="576.62" y="330.0" width="4.0" height="19.4" fill="#ef5350"/>
<rect x="583.16" y="335.1" width="1.0" height="11.3" fill="#26a69a"/>
<rect x="581.66" y="337.6" width="4.0" height="3.8" fill="#26a69a"/>
<rect x="588.19" y="326.3" width="1.0" height="14.3" fill="#26a69a"/>
<rect x="586.69" y="333.1" width="4.0" height="4.5" fill="#26a69a"/>
<rect x="593.23" y="337.4" width="1.0" height="11.4" fill="#ef5350"/>
<rect x="591.73" y="338.0" width="4.0" height="2.6" fill="#ef5350"/>
<rect x="598.27" y="326.3" width="1.0" height="19.6" fill="#ef5350"/>
<rect x="596.77" y="335.7" width="4.0" height="4.3" fill="#ef5350"/>
<rect x="603.31" y="330.8" width="1.0" height="12.5" fill="#ef5350"/>
<rect x="601.81" y="332.2" width="4.0" height="9.2" fill="#ef5350"/>
<rect x="608.35" y="313.5" width="1.0" height="27.5" fill="#26a69a"/>
<rect x="606.85" y="315.6" width="4.0" height="25.0" fill="#26a69a"/>
<rect x="613.38" y="288.9" width="1.0" height="26.4" fill="#26a69a"/>
<rect x="611.88" y="295.9" width="4.0" height="17.2" fill="#26a69a"/>
<rect x="618.42" y="235.4" width="1.0" height="43.2" fill="#26a69a"/>
<rect x="616.92" y="242.8" width="4.0" height="29.0" fill="#26a69a"/>
<rect x="623.46" y="234.6" width="1.0" height="15.0" fill="#ef5350"/>
<rect x="621.96" y="241.2" width="4.0" height="3.5" fill="#ef5350"/>
<rect x="628.50" y="225.6" width="1.0" height="40.7" fill="#ef5350"/>
<rect x="627.00" y="234.0" width="4.0" height="28.7" fill="#ef5350"/>
<rect x="633.54" y="250.2" width="1.0" height="20.2" fill="#26a69a"/>
<rect x="632.04" y="258.0" width="4.0" height="2.9" fill="#26a69a"/>
<rect x="638.57" y="223.2" width="1.0" height="29.0" fill="#26a69a"/>
<rect x="637.07" y="224.2" width="4.0" height="22.5" fill="#26a69a"/>
<rect x="643.61" y="216.0" width="1.0" height="15.0" fill="#26a69a"/>
<rect x="642.11" y="221.3" width="4.0" height="3.3" fill="#26a69a"/>
<rect x="648.65" y="198.2" width="1.0" height="21.5" fill="#26a69a"/>
<rect x="647.15" y="202.3" width="4.0" height="15.7" fill="#26a69a"/>
<rect x="653.69" y="204.1" width="1.0" height="20.7" fill="#ef5350"/>
<rect x="652.19" y="207.0" width="4.0" height="12.7" fill="#ef5350"/>
<rect x="658.73" y="210.1" width="1.0" height="16.7" fill="#ef5350"/>
<rect x="657.23" y="217.4" width="4.0" height="4.5" fill="#ef5350"/>
<rect x="663.76" y="212.1" width="1.0" height="17.6" fill="#ef5350"/>
<rect x="662.26" y="221.7" width="4.0" height="2.1" fill="#ef5350"/>
<rect x="668.80" y="214.4" width="1.0" height="25.5" fill="#ef5350"/>
<rect x="667.30" y="224.2" width="4.0" height="12.3" fill="#ef5350"/>
<rect x="673.84" y="205.2" width="1.0" height="27.4" fill="#26a69a"/>
<rect x="672.34" y="211.5" width="4.0" height="13.1" fill="#26a69a"/>
<rect x="678.88" y="208.2" width="1.0" height="25.4" fill="#ef5350"/>
<rect x="677.38" y="212.9" width="4.0" height="18.2" fill="#ef5350"/>
<rect x="683.92" y="206.2" width="1.0" height="27.2" fill="#26a69a"/>
<rect x="682.42" y="218.0" width="4.0" height="13.1" fill="#26a69a"/>
<rect x="688.95" y="208.2" width="1.0" height="20.9" fill="#ef5350"/>
<rect x="687.45" y="209.9" width="4.0" height="4.9" fill="#ef5350"/>
<rect x="693.99" y="180.9" width="1.0" height="26.7" fill="#26a69a"/>
<rect x="692.49" y="195.0" width="4.0" height="7.1" fill="#26a69a"/>
<rect x="699.03" y="183.8" width="1.0" height="15.9" fill="#ef5350"/>
<rect x="697.53" y="191.1" width="4.0" height="4.9" fill="#ef5350"/>
<rect x="704.07" y="184.4" width="1.0" height="17.2" fill="#26a69a"/>
<rect x="702.57" y="186.9" width="4.0" height="14.3" fill="#26a69a"/>
<rect x="709.11" y="181.5" width="1.0" height="13.8" fill="#ef5350"/>
<rect x="707.61" y="184.8" width="4.0" height="2.9" fill="#ef5350"/>
<rect x="714.14" y="177.2" width="1.0" height="19.0" fill="#ef5350"/>
<rect x="712.64" y="183.8" width="4.0" height="2.6" fill="#ef5350"/>
<rect x="719.18" y="183.0" width="1.0" height="11.5" fill="#26a69a"/>
<rect x="717.68" y="186.7" width="4.0" height="2.0" fill="#26a69a"/>
<rect x="724.22" y="144.7" width="1.0" height="20.1" fill="#26a69a"/>
<rect x="722.72" y="156.6" width="4.0" height="7.7" fill="#26a69a"/>
<rect x="729.26" y="153.5" width="1.0" height="20.2" fill="#ef5350"/>
<rect x="727.76" y="154.1" width="4.0" height="15.2" fill="#ef5350"/>
<rect x="734.30" y="143.3" width="1.0" height="37.2" fill="#26a69a"/>
<rect x="732.80" y="164.3" width="4.0" height="4.9" fill="#26a69a"/>
<rect x="739.33" y="130.2" width="1.0" height="32.8" fill="#26a69a"/>
<rect x="737.83" y="132.2" width="4.0" height="30.3" fill="#26a69a"/>
<rect x="744.37" y="125.8" width="1.0" height="21.5" fill="#ef5350"/>
<rect x="742.87" y="127.1" width="4.0" height="11.9" fill="#ef5350"/>
<rect x="749.41" y="120.3" width="1.0" height="19.7" fill="#ef5350"/>
<rect x="747.91" y="134.2" width="4.0" height="1.3" fill="#ef5350"/>
<rect x="754.45" y="123.8" width="1.0" height="15.6" fill="#ef5350"/>
<rect x="752.95" y="127.1" width="4.0" height="10.4" fill="#ef5350"/>
<rect x="759.49" y="150.8" width="1.0" height="21.3" fill="#ef5350"/>
<rect x="757.99" y="159.0" width="4.0" height="7.2" fill="#ef5350"/>
<rect x="764.52" y="150.8" width="1.0" height="20.9" fill="#ef5350"/>
<rect x="763.02" y="159.0" width="4.0" height="7.2" fill="#ef5350"/>
<rect x="769.56" y="142.8" width="1.0" height="45.9" fill="#ef5350"/>
<rect x="768.06" y="168.2" width="4.0" height="1.5" fill="#ef5350"/>
<rect x="774.60" y="158.4" width="1.0" height="27.4" fill="#26a69a"/>
<rect x="773.10" y="163.5" width="4.0" height="11.7" fill="#26a69a"/>
<rect x="779.64" y="152.1" width="1.0" height="17.6" fill="#26a69a"/>
<rect x="778.14" y="161.3" width="4.0" height="4.1" fill="#26a69a"/>
<rect x="784.68" y="161.3" width="1.0" height="24.1" fill="#ef5350"/>
<rect x="783.18" y="163.9" width="4.0" height="12.1" fill="#ef5350"/>
<rect x="789.71" y="156.1" width="1.0" height="17.6" fill="#26a69a"/>
<rect x="788.21" y="167.2" width="4.0" height="4.5" fill="#26a69a"/>
<rect x="794.75" y="154.1" width="1.0" height="27.8" fill="#26a69a"/>
<rect x="793.25" y="159.0" width="4.0" height="8.8" fill="#26a69a"/>
<rect x="799.79" y="143.3" width="1.0" height="14.7" fill="#26a69a"/>
<rect x="798.29" y="145.9" width="4.0" height="6.8" fill="#26a69a"/>
<rect x="804.83" y="143.9" width="1.0" height="13.7" fill="#26a69a"/>
<rect x="803.33" y="146.9" width="4.0" height="5.8" fill="#26a69a"/>
<rect x="809.87" y="151.2" width="1.0" height="15.2" fill="#ef5350"/>
<rect x="808.37" y="159.0" width="4.0" height="3.5" fill="#ef5350"/>
<rect x="814.90" y="153.7" width="1.0" height="11.7" fill="#ef5350"/>
<rect x="813.40" y="154.1" width="4.0" height="6.3" fill="#ef5350"/>
<rect x="819.94" y="151.2" width="1.0" height="19.0" fill="#26a69a"/>
<rect x="818.44" y="160.0" width="4.0" height="9.7" fill="#26a69a"/>
<rect x="824.98" y="127.8" width="1.0" height="25.0" fill="#26a69a"/>
<rect x="823.48" y="137.1" width="4.0" height="12.2" fill="#26a69a"/>
<rect x="830.02" y="124.0" width="1.0" height="13.5" fill="#26a69a"/>
<rect x="828.52" y="126.0" width="4.0" height="3.0" fill="#26a69a"/>
<rect x="835.06" y="119.8" width="1.0" height="15.2" fill="#ef5350"/>
<rect x="833.56" y="120.2" width="4.0" height="11.5" fill="#ef5350"/>
<rect x="840.09" y="126.2" width="1.0" height="23.7" fill="#ef5350"/>
<rect x="838.59" y="129.0" width="4.0" height="16.1" fill="#ef5350"/>
<rect x="845.13" y="141.8" width="1.0" height="7.4" fill="#26a69a"/>
<rect x="843.63" y="143.4" width="4.0" height="5.3" fill="#26a69a"/>
<rect x="850.17" y="144.7" width="1.0" height="16.3" fill="#ef5350"/>
<rect x="848.67" y="148.6" width="4.0" height="10.1" fill="#ef5350"/>
<rect x="855.21" y="149.3" width="1.0" height="17.6" fill="#ef5350"/>
<rect x="853.71" y="157.0" width="4.0" height="7.2" fill="#ef5350"/>
<rect x="860.25" y="124.5" width="1.0" height="39.8" fill="#26a69a"/>
<rect x="858.75" y="131.2" width="4.0" height="32.7" fill="#26a69a"/>
<rect x="865.28" y="108.3" width="1.0" height="23.1" fill="#26a69a"/>
<rect x="863.78" y="126.3" width="4.0" height="2.8" fill="#26a69a"/>
<rect x="870.32" y="106.0" width="1.0" height="17.9" fill="#26a69a"/>
<rect x="868.82" y="107.7" width="4.0" height="14.5" fill="#26a69a"/>
<rect x="875.36" y="87.2" width="1.0" height="39.6" fill="#ef5350"/>
<rect x="873.86" y="107.3" width="4.0" height="16.3" fill="#ef5350"/>
<rect x="880.40" y="133.0" width="1.0" height="78.0" fill="#ef5350"/>
<rect x="878.90" y="133.2" width="4.0" height="65.5" fill="#ef5350"/>
<rect x="885.44" y="186.0" width="1.0" height="23.4" fill="#ef5350"/>
<rect x="883.94" y="196.4" width="4.0" height="6.2" fill="#ef5350"/>
<rect x="890.47" y="203.2" width="1.0" height="37.7" fill="#ef5350"/>
<rect x="888.97" y="207.1" width="4.0" height="31.9" fill="#ef5350"/>
<rect x="895.51" y="228.6" width="1.0" height="16.4" fill="#26a69a"/>
<rect x="894.01" y="233.7" width="4.0" height="10.9" fill="#26a69a"/>
<rect x="900.55" y="222.0" width="1.0" height="37.6" fill="#26a69a"/>
<rect x="899.05" y="224.3" width="4.0" height="9.4" fill="#26a69a"/>
<rect x="905.59" y="222.8" width="1.0" height="43.9" fill="#ef5350"/>
<rect x="904.09" y="223.3" width="4.0" height="34.6" fill="#ef5350"/>
<rect x="910.63" y="241.8" width="1.0" height="29.7" fill="#26a69a"/>
<rect x="909.13" y="251.1" width="4.0" height="15.9" fill="#26a69a"/>
<rect x="915.66" y="228.2" width="1.0" height="26.9" fill="#ef5350"/>
<rect x="914.16" y="251.0" width="4.0" height="1.3" fill="#ef5350"/>
<rect x="920.70" y="259.8" width="1.0" height="51.0" fill="#ef5350"/>
<rect x="919.20" y="260.1" width="4.0" height="39.6" fill="#ef5350"/>
<rect x="925.74" y="296.3" width="1.0" height="28.9" fill="#ef5350"/>
<rect x="924.24" y="302.4" width="4.0" height="18.2" fill="#ef5350"/>
<rect x="930.78" y="300.0" width="1.0" height="42.9" fill="#26a69a"/>
<rect x="929.28" y="309.3" width="4.0" height="15.5" fill="#26a69a"/>
<rect x="935.82" y="292.4" width="1.0" height="26.7" fill="#ef5350"/>
<rect x="934.32" y="303.2" width="4.0" height="8.3" fill="#ef5350"/>
<rect x="940.85" y="306.1" width="1.0" height="28.0" fill="#ef5350"/>
<rect x="939.35" y="312.2" width="4.0" height="16.5" fill="#ef5350"/>
<rect x="945.49" y="322.4" width="1.8" height="26.0" fill="#26a69a" opacity="0.5"/>
<rect x="944.39" y="334.7" width="4.0" height="1.4" fill="#26a69a"/>
<rect x="950.93" y="303.2" width="1.0" height="27.8" fill="#26a69a"/>
<rect x="949.43" y="317.2" width="4.0" height="13.3" fill="#26a69a"/>
<rect x="955.97" y="310.2" width="1.0" height="21.0" fill="#ef5350"/>
<rect x="954.47" y="310.8" width="4.0" height="11.5" fill="#ef5350"/>
<rect x="961.01" y="315.9" width="1.0" height="21.2" fill="#26a69a"/>
<rect x="959.51" y="319.2" width="4.0" height="13.6" fill="#26a69a"/>
</g>
<rect x="17" y="419.1" width="948" height="1.6" fill="#9d9eac"/>
<clipPath id="cp"><rect x="17" y="421" width="947" height="24"/></clipPath><g clip-path="url(#cp)"><g filter="url(#tb)">
<text transform="translate(24,435.8) scale(0.91,1)" font-size="10.5" text-anchor="middle">May</text>
<text transform="translate(130,435.8) scale(0.91,1)" font-size="10.5" text-anchor="middle">Jun</text>
<text transform="translate(235.7,435.8) scale(0.91,1)" font-size="10.5" text-anchor="middle">Jul</text>
<text transform="translate(351.7,435.8) scale(0.91,1)" font-size="10.5" text-anchor="middle">Aug</text>
<text transform="translate(447.2,435.8) scale(0.91,1)" font-size="10.5" text-anchor="middle">Sep</text>
<text transform="translate(558,435.8) scale(0.91,1)" font-size="10.5" text-anchor="middle">Oct</text>
<text transform="translate(664,435.8) scale(0.91,1)" font-size="10.5" text-anchor="middle">Nov</text>
<text transform="translate(754.3,435.8) scale(0.91,1)" font-size="10.5" text-anchor="middle">Dec</text>
<text transform="translate(865.6,435.8) scale(0.91,1)" font-size="10.5" text-anchor="middle" font-weight="bold">2026</text>
<text transform="translate(935.6,435.8) scale(0.91,1)" font-size="10.5" text-anchor="middle">22</text>
</g></g>
<g filter="url(#tb)">
<text transform="translate(1008.2,398.4) scale(0.9,1)" font-size="10.8" text-anchor="end">1325.00</text>
<text transform="translate(1008.2,371.6) scale(0.9,1)" font-size="10.8" text-anchor="end">1350.00</text>
<text transform="translate(1008.2,344.8) scale(0.9,1)" font-size="10.8" text-anchor="end">1375.00</text>
<text transform="translate(1008.2,318.0) scale(0.9,1)" font-size="10.8" text-anchor="end">1400.00</text>
<text transform="translate(1008.2,291.2) scale(0.9,1)" font-size="10.8" text-anchor="end">1425.00</text>
<text transform="translate(1008.2,264.4) scale(0.9,1)" font-size="10.8" text-anchor="end">1450.00</text>
<text transform="translate(1008.2,237.6) scale(0.9,1)" font-size="10.8" text-anchor="end">1475.00</text>
<text transform="translate(1008.2,210.8) scale(0.9,1)" font-size="10.8" text-anchor="end">1500.00</text>
<text transform="translate(1008.2,184.0) scale(0.9,1)" font-size="10.8" text-anchor="end">1525.00</text>
<text transform="translate(1008.2,157.2) scale(0.9,1)" font-size="10.8" text-anchor="end">1550.00</text>
<text transform="translate(1008.2,130.5) scale(0.9,1)" font-size="10.8" text-anchor="end">1575.00</text>
<text transform="translate(1008.2,103.7) scale(0.9,1)" font-size="10.8" text-anchor="end">1600.00</text>
<text transform="translate(1008.2,76.9) scale(0.9,1)" font-size="10.8" text-anchor="end">1625.00</text>
<text transform="translate(1008.2,50.1) scale(0.9,1)" font-size="10.8" text-anchor="end">1650.00</text>
<text transform="translate(1008.2,23.3) scale(0.9,1)" font-size="10.8" text-anchor="end">1675.00</text>
</g>
<rect x="964" y="312" width="50" height="13.8" rx="1.2" fill="#26a69a"/>
<text transform="translate(1008.2,323.2) scale(0.9,1)" font-size="10.8" text-anchor="end" style="fill:#fff;stroke:#fff;stroke-width:0.25" filter="url(#tb)">1395.40</text>
</svg></body></html>
